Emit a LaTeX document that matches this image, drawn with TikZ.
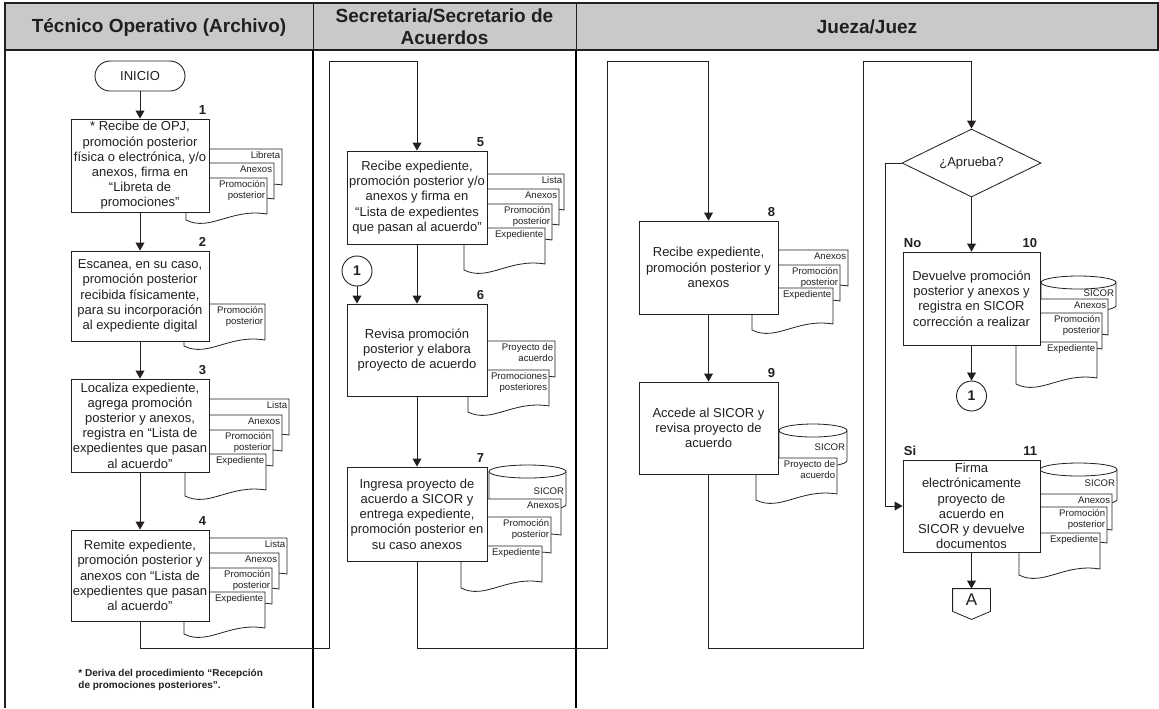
\documentclass[tikz,border=0pt]{standalone}
\usepackage{fontspec}
\setmainfont{Liberation Sans}
\usetikzlibrary{shapes.geometric,arrows.meta,calc}

\definecolor{headgray}{RGB}{200,201,203}
\definecolor{inkc}{RGB}{35,31,32}

\tikzset{
  procbox/.style={draw=inkc, line width=0.42pt, fill=white, align=center,
    inner sep=0.5pt, text=inkc, font=\fontsize{6.5}{7.6}\selectfont},
  pageline/.style={draw=inkc, line width=0.4pt, fill=white},
  pagelabel/.style={font=\fontsize{4.8}{5.1}\selectfont, align=right,
    inner sep=0pt, text=inkc},
  stepnum/.style={font=\bfseries\fontsize{6.5}{7.5}\selectfont, inner sep=0.5pt, text=inkc},
  flow/.style={draw=inkc, line width=0.42pt, -{Triangle[length=4pt,width=4.4pt]}},
  lanerule/.style={draw=black, line width=1.3pt},
  headtext/.style={font=\bfseries\fontsize{9.5}{11}\selectfont, align=center, text=inkc},
  joincircle/.style={circle, draw=inkc, line width=0.45pt, fill=white,
    minimum size=15pt, inner sep=0pt, text=inkc, font=\bfseries\fontsize{7}{8}\selectfont},
  terminal/.style={draw=inkc, line width=0.45pt, fill=white, rounded corners=7.5pt,
    minimum width=45pt, minimum height=15pt, inner sep=0pt, text=inkc,
    font=\fontsize{6.5}{7.5}\selectfont},
  decision/.style={diamond, aspect=2, draw=inkc, line width=0.42pt, fill=white,
    minimum width=69.5pt, minimum height=34pt, inner sep=0pt, text=inkc,
    font=\fontsize{6.5}{7.5}\selectfont},
}

% process box given by its corners (x1,y1)-(x2,y2)
\newcommand{\procstep}[6]{%
  \pgfmathsetmacro{\pboxw}{(#4-#2)/2}%
  \pgfmathsetmacro{\pboxh}{(#5-#3)/2}%
  \node[procbox, minimum width=\pboxw pt, minimum height=\pboxh pt]
    (#1) at ({(#2+#4)/2},{(#3+#5)/2}) {#6};}

% one sheet of a document stack: name, right x, top y, label
\newcommand{\docpage}[4]{%
  \filldraw[pageline] ({#2-81},#3) -- (#2,#3) -- (#2,#3+36)
     .. controls ({#2-36},#3+30) and ({#2-57},#3+54) .. ({#2-81},#3+42) -- cycle;
  \node[pagelabel, anchor=north east] (#1) at (#2-1.5,#3+2.5) {#4};}

% data store drum: name, left x, right x, top y, side length, label y
\newcommand{\dbdrum}[6]{%
  \pgfmathsetmacro{\drumrx}{(#3-#2)/4}%
  \filldraw[pageline] (#2,#4+6.5) -- (#2,#4+6.5+#5)
     arc[start angle=180, end angle=360, x radius=\drumrx pt, y radius=3.25pt]
     -- (#3,#4+6.5)
     arc[start angle=0, end angle=180, x radius=\drumrx pt, y radius=3.25pt] -- cycle;
  \draw[pageline, fill=none] (#2,#4+6.5)
     arc[start angle=180, end angle=360, x radius=\drumrx pt, y radius=3.25pt];
  \node[pagelabel, anchor=east] (#1) at (#3-1.5,#6) {SICOR};}

\begin{document}
\begin{tikzpicture}[x=0.5pt,y=-0.5pt]
\useasboundingbox (0,0) rectangle (1159,708);
\fill[white] (0,0) rectangle (1159,708);

% ---- swimlane header and rules
\filldraw[fill=headgray, draw=inkc, line width=0.6pt] (5,3) rectangle (1158,50);
\draw[draw=inkc, line width=0.5pt] (313,3) -- (313,50) (576,3) -- (576,50);
\node[headtext] (h1) at (159,27) {Técnico Operativo (Archivo)};
\node[headtext] (h2) at (444.5,27) {Secretaria/Secretario de\\Acuerdos};
\node[headtext] (h3) at (867,27) {Jueza/Juez};
\draw[draw=inkc, line width=0.6pt] (5,50) -- (5,708);
\draw[lanerule] (313,50) -- (313,708);
\draw[lanerule] (576,50) -- (576,708);

% ---- document stacks (drawn behind the boxes)
\docpage{p1a}{282}{149}{Libreta}
\docpage{p1b}{274}{163}{Anexos}
\docpage{p1c}{267}{178}{Promoción\\posterior}

\docpage{p2a}{265}{304}{Promoción\\posterior}

\docpage{p3a}{289}{399}{Lista}
\docpage{p3b}{282}{415}{Anexos}
\docpage{p3c}{273}{430}{Promoción\\posterior}
\docpage{p3d}{266}{454}{Expediente}

\docpage{p4a}{287}{538}{Lista}
\docpage{p4b}{279}{553}{Anexos}
\docpage{p4c}{272}{568}{Promoción\\posterior}
\docpage{p4d}{265}{592}{Expediente}

\docpage{p5a}{564}{174}{Lista}
\docpage{p5b}{559}{189}{Anexos}
\docpage{p5c}{552}{204}{Promoción\\posterior}
\docpage{p5d}{545}{228}{Expediente}

\docpage{p6a}{555}{341}{Proyecto de\\acuerdo}
\docpage{p6b}{549}{370}{Promociones\\posteriores}

\dbdrum{s7}{489}{566}{465}{33}{491}
\docpage{p7a}{561}{499}{Anexos}
\docpage{p7b}{551}{517}{Promoción\\posterior}
\docpage{p7c}{542}{546}{Expediente}

\docpage{p8a}{848}{250}{Anexos}
\docpage{p8b}{840}{265}{Promoción\\posterior}
\docpage{p8c}{833}{288}{Expediente}

\dbdrum{s9}{779}{847}{424}{30}{447}
\docpage{p9a}{837}{458}{Proyecto de\\acuerdo}

\dbdrum{s10}{1041}{1116}{276}{23}{293}
\docpage{p10a}{1108}{299}{Anexos}
\docpage{p10b}{1102}{313}{Promoción\\posterior}
\docpage{p10c}{1097}{342}{Expediente}

\dbdrum{s11}{1040}{1117}{463}{30}{483}
\docpage{p11a}{1112}{494}{Anexos}
\docpage{p11b}{1107}{507}{Promoción\\posterior}
\docpage{p11c}{1100}{533}{Expediente}

% ---- flow nodes
\node[terminal] (ini) at (140,76) {INICIO};

\procstep{b1}{71}{119}{209}{212}{* Recibe de OPJ,\\promoción posterior\\física o electrónica, y/o\\anexos, firma en\\“Libreta de\\promociones”}
\procstep{b2}{71}{251}{209}{341}{Escanea, en su caso,\\promoción posterior\\recibida físicamente,\\para su incorporación\\al expediente digital}
\procstep{b3}{71}{379}{209}{472}{Localiza expediente,\\agrega promoción\\posterior y anexos,\\registra en “Lista de\\expedientes que pasan\\al acuerdo”}
\procstep{b4}{71}{530}{209}{621}{Remite expediente,\\promoción posterior y\\anexos con “Lista de\\expedientes que pasan\\al acuerdo”}

\procstep{b5}{347}{151}{487}{244}{Recibe expediente,\\promoción posterior y/o\\anexos y firma en\\“Lista de expedientes\\que pasan al acuerdo”}
\procstep{b6}{347}{304}{487}{396}{Revisa promoción\\posterior y elabora\\proyecto de acuerdo}
\procstep{b7}{347}{467}{487}{561}{Ingresa proyecto de\\acuerdo a SICOR y\\entrega expediente,\\promoción posterior en\\su caso anexos}
\node[joincircle] (c1a) at (357,271) {1};

\procstep{b8}{639}{221}{778}{314}{Recibe expediente,\\promoción posterior y\\anexos}
\procstep{b9}{639}{382}{778}{474}{Accede al SICOR y\\revisa proyecto de\\acuerdo}

\node[decision] (dec) at (971.5,163) {¿Aprueba?};
\procstep{b10}{903}{252}{1040}{345}{Devuelve promoción\\posterior y anexos y\\registra en SICOR\\corrección a realizar}
\node[joincircle] (c1b) at (971.5,396) {1};
\procstep{b11}{903}{460}{1040}{552}{Firma\\electrónicamente\\proyecto de\\acuerdo en\\SICOR y devuelve\\documentos}

% off-page reference
\node[minimum width=18.5pt, minimum height=11pt, inner sep=0pt, text=inkc,
      font=\fontsize{8.5}{9}\selectfont] (offA) at (971.5,600) {A};
\draw[pageline, fill=none] (offA.north west) -- (offA.north east) -- (offA.south east)
   -- ($(offA.south)+(0,8)$) -- (offA.south west) -- cycle;

% ---- step numbers and branch labels
\foreach \b/\n in {b1/1,b2/2,b3/3,b4/4,b5/5,b6/6,b7/7,b8/8,b9/9,b10/10,b11/11}
  \node[stepnum, anchor=south east] (num\n) at ([xshift=-1pt,yshift=1.5pt]\b.north east) {\n};
\node[stepnum, anchor=south west] (lno) at ([yshift=1.5pt]b10.north west) {No};
\node[stepnum, anchor=south west] (lsi) at ([yshift=1.5pt]b11.north west) {Si};

% ---- connectors
\coordinate (w1) at (329,648);
\coordinate (w2) at (417,61);
\coordinate (w3) at (607,648);
\coordinate (w4) at (708.5,61);
\coordinate (w5) at (863,648);
\coordinate (w6) at (971.5,61);
\coordinate (w7) at (885,506);

\draw[flow] (ini) -- (b1);
\draw[flow] (b1) -- (b2);
\draw[flow] (b2) -- (b3);
\draw[flow] (b3) -- (b4);
\draw[flow] (b4.south) |- (w1) |- (w2) -- (b5.north);
\draw[flow] (b5) -- (b6);
\draw[flow] (c1a) -- (c1a |- b6.north);
\draw[flow] (b6) -- (b7);
\draw[flow] (b7.south) |- (w3) |- (w4) -- (b8.north);
\draw[flow] (b8) -- (b9);
\draw[flow] (b9.south) |- (w5) |- (w6) -- (dec.north);
\draw[flow] (dec) -- (b10);
\draw[flow] (b10) -- (c1b);
\draw[flow] (dec.west) -| (w7) -- (b11.west);
\draw[flow] (b11) -- (offA.north);

% ---- footnote
\node[anchor=north west, align=left, inner sep=0pt, text=inkc,
      font=\bfseries\fontsize{5}{6}\selectfont] (fn) at (78,669)
  {* Deriva del procedimiento “Recepción\\de promociones posteriores”.};
\end{tikzpicture}
\end{document}
